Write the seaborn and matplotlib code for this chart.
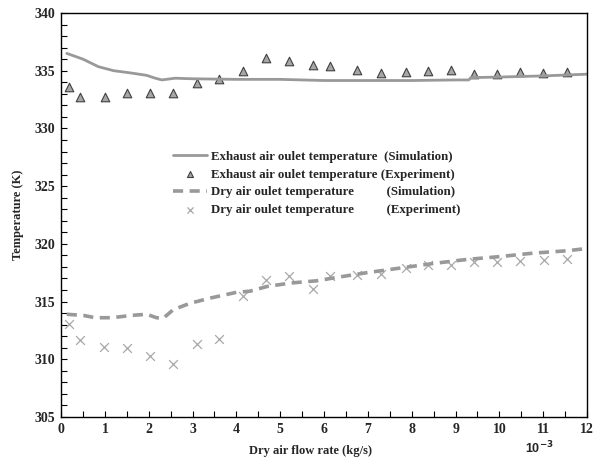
import numpy as np
import pandas as pd
import matplotlib
matplotlib.use("Agg")
import matplotlib.pyplot as plt
from matplotlib.ticker import MultipleLocator
import seaborn as sns

# ---- data (x in 10^-3 kg/s, T in K) ----
exh_sim_x = [0.13, 0.5, 0.85, 1.2, 1.6, 1.95, 2.15, 2.3, 2.6, 3.0, 4.0, 5.0, 6.0, 7.0, 8.0, 9.0, 9.3, 9.35, 10.0, 11.0, 12.0]
exh_sim_t = [336.5, 336.0, 335.35, 335.0, 334.8, 334.6, 334.35, 334.2, 334.35, 334.3, 334.25, 334.25, 334.15, 334.15, 334.15, 334.2, 334.2, 334.4, 334.45, 334.55, 334.7]

exh_exp_x = [0.17, 0.43, 1.0, 1.5, 2.03, 2.56, 3.1, 3.61, 4.14, 4.68, 5.19, 5.74, 6.14, 6.76, 7.29, 7.86, 8.36, 8.89, 9.42, 9.94, 10.47, 11.0, 11.54]
exh_exp_t = [333.6, 332.7, 332.7, 333.1, 333.1, 333.1, 333.9, 334.3, 335.0, 336.1, 335.8, 335.5, 335.4, 335.1, 334.8, 334.9, 335.0, 335.1, 334.7, 334.7, 334.9, 334.8, 334.9]

dry_sim_x = [0.13, 0.51, 0.78, 1.16, 1.6, 1.95, 2.18, 2.33, 2.56, 2.94, 3.4, 4.0, 4.31, 4.69, 5.22, 5.83, 6.3, 6.97, 7.73, 8.49, 9.26, 10.02, 10.78, 11.54, 12.0]
dry_sim_t = [313.9, 313.8, 313.6, 313.6, 313.8, 313.9, 313.6, 313.55, 314.3, 314.85, 315.3, 315.8, 315.9, 316.3, 316.6, 316.8, 317.1, 317.5, 317.9, 318.3, 318.65, 318.9, 319.2, 319.4, 319.6]

dry_exp_x = [0.17, 0.43, 0.99, 1.5, 2.03, 2.56, 3.1, 3.61, 4.14, 4.68, 5.19, 5.74, 6.14, 6.76, 7.29, 7.86, 8.36, 8.89, 9.41, 9.94, 10.47, 11.02, 11.54]
dry_exp_t = [313.1, 311.7, 311.1, 311.0, 310.3, 309.6, 311.3, 311.8, 315.5, 316.9, 317.2, 316.1, 317.2, 317.3, 317.4, 317.9, 318.2, 318.2, 318.45, 318.4, 318.5, 318.6, 318.7]

labels = [
    "Exhaust air oulet temperature  (Simulation)",
    "Exhaust air oulet temperature (Experiment)",
    "Dry air oulet temperature          (Simulation)",
    "Dry air oulet temperature          (Experiment)",
]

sns.set_theme(style="white")
plt.rcParams["font.family"] = ["Liberation Serif", "DejaVu Serif"]
plt.rcParams["font.weight"] = "bold"

fig = plt.figure(figsize=(5.93, 4.59), dpi=100)
ax = fig.add_axes([0.103, 0.0915, 0.887, 0.8802])

sns.lineplot(x=exh_sim_x, y=exh_sim_t, ax=ax, color="#999999", lw=2.0,
             label=labels[0])
sns.scatterplot(x=exh_exp_x, y=exh_exp_t, ax=ax, marker="^", s=38,
                color="#a6a6a6", edgecolor="#404040", linewidth=0.8,
                label=labels[1])
sns.lineplot(x=dry_sim_x, y=dry_sim_t, ax=ax, color="#999999", lw=2.6,
             label=labels[2])
ax.lines[-1].set_dashes([2.8, 1.8])
sns.scatterplot(x=dry_exp_x, y=dry_exp_t, ax=ax, marker="x", s=40,
                color="#a8a8a8", linewidth=0.9, label=labels[3])

ax.set_xlim(0, 12)
ax.set_ylim(305, 340)
ax.xaxis.set_major_locator(MultipleLocator(1))
ax.xaxis.set_minor_locator(MultipleLocator(0.5))
ax.yaxis.set_major_locator(MultipleLocator(5))
ax.yaxis.set_minor_locator(MultipleLocator(1))
ax.tick_params(which="both", direction="in", length=4, width=0.8,
               color="black", bottom=True, left=True, top=False, right=False)
ax.tick_params(which="major", labelsize=10, pad=4)
for lab in ax.get_xticklabels() + ax.get_yticklabels():
    lab.set_fontweight("bold")
for sp in ax.spines.values():
    sp.set_color("black")
    sp.set_linewidth(1.0)

ax.set_xlabel("Dry air flow rate (kg/s)", fontsize=9, fontweight="bold")
ax.xaxis.set_label_coords(0.474, -0.07)
ax.set_ylabel("Temperature (K)", fontsize=9, fontweight="bold", labelpad=8)
fig.text(0.91, 0.025, "10$^{-3}$", fontsize=9, family="Liberation Sans",
         ha="center", va="center")

leg = ax.legend(loc="upper left", bbox_to_anchor=(0.283, 0.683),
                bbox_transform=fig.transFigure, frameon=False,
                fontsize=9.3, handlelength=2.6, handletextpad=0.35,
                labelspacing=0.45, borderaxespad=0, markerscale=0.7)
for t in leg.get_texts():
    t.set_fontweight("bold")

fig.savefig("out.png", dpi=100)
